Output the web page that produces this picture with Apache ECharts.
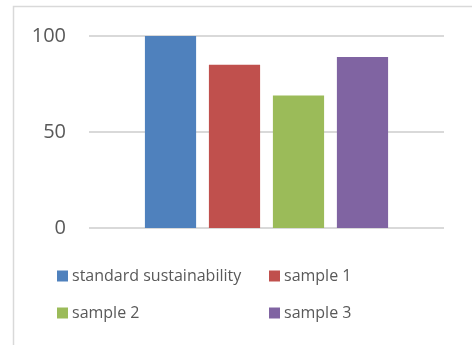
<!DOCTYPE html>
<html>
<head>
<meta charset="utf-8">
<script src="https://cdn.jsdelivr.net/npm/echarts@6/dist/echarts.min.js"></script>
<style>
  html, body { margin: 0; padding: 0; background: #ffffff; }
  #chart { width: 472px; height: 345px; }
</style>
</head>
<body>
<div id="chart"></div>
<script>
// Sustainability score per sample
const seriesNames = ['standard sustainability', 'sample 1', 'sample 2', 'sample 3'];
const seriesValues = [100, 85, 69, 89];
const seriesColors = ['#4f81bd', '#c0504d', '#9bbb59', '#8064a2'];
const categories = [''];
const yTicks = { min: 0, max: 100, interval: 50 };

const chart = echarts.init(document.getElementById('chart'), null, { renderer: 'canvas' });

const textColor = '#595959';
const fontFamily = '"Open Sans", "Liberation Sans", sans-serif';

// legend placement: two columns, two rows
const legendPos = [
  { left: 57, top: 268 },
  { left: 269, top: 268 },
  { left: 57, top: 305 },
  { left: 269, top: 305 }
];

const legends = seriesNames.map((name, i) => ({
  data: [name],
  left: legendPos[i].left,
  top: legendPos[i].top,
  padding: 0,
  itemWidth: 11,
  itemHeight: 11,
  itemGap: 0,
  icon: 'rect',
  selectedMode: false,
  textStyle: { color: textColor, fontSize: 16, fontFamily: fontFamily, padding: [0, 0, 0, -1] }
}));

const series = seriesNames.map((name, i) => ({
  name: name,
  type: 'bar',
  data: [seriesValues[i]],
  itemStyle: { color: seriesColors[i] },
  barGap: '25%',
  barCategoryGap: '31.5%',
  animation: false
}));

chart.setOption({
  animation: false,
  graphic: [{
    type: 'rect',
    shape: { x: 13.5, y: 6.5, width: 480, height: 360 },
    style: { fill: 'none', stroke: '#d9d9d9', lineWidth: 1.5 },
    silent: true,
    z: -1
  }],
  legend: legends,
  grid: { left: 89, right: 28, top: 36, height: 192 },
  xAxis: {
    type: 'category',
    data: categories,
    axisLine: { show: false },
    axisTick: { show: false },
    axisLabel: { show: false }
  },
  yAxis: {
    type: 'value',
    min: yTicks.min,
    max: yTicks.max,
    interval: yTicks.interval,
    axisLine: { show: false },
    axisTick: { show: false },
    axisLabel: { color: textColor, fontSize: 20, fontFamily: fontFamily, margin: 23 },
    splitLine: { lineStyle: { color: '#d9d9d9', width: 2 } }
  },
  series: series
});
</script>
</body>
</html>
